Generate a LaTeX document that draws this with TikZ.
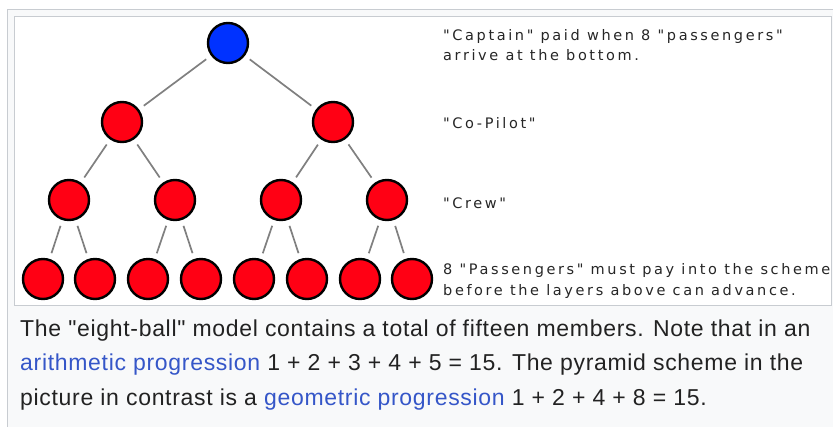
\documentclass[tikz,border=0pt]{standalone}
\usepackage{fontspec}
\setmainfont{Liberation Sans}[Ligatures=TeXOff]
\newfontfamily\smallfont{DejaVu Sans}[LetterSpace=18,Ligatures=TeXOff]
\newfontfamily\capfont{Liberation Sans}[LetterSpace=3,Ligatures=TeXOff]
\definecolor{ballred}{HTML}{FF0014}
\definecolor{ballblue}{HTML}{0032FF}
\definecolor{edgegray}{HTML}{808080}
\definecolor{framegray}{HTML}{C8CCD1}
\definecolor{capbg}{HTML}{F8F9FA}
\definecolor{linkblue}{HTML}{3556C8}
\definecolor{captext}{HTML}{222222}
\begin{document}
\begin{tikzpicture}[x=1pt,y=-1pt,
  ball/.style={circle,draw=black,line width=2.4pt,minimum size=40pt,inner sep=0pt,fill=ballred},
  edgeln/.style={draw=edgegray,line width=1.7pt,shorten >=6pt,shorten <=6pt},
  lbl/.style={anchor=base west,inner sep=0pt,font=\smallfont\fontsize{14.5}{20}\selectfont,text=black!85},
  captxt/.style={anchor=base west,inner sep=0pt,font=\capfont\fontsize{23}{28}\selectfont,text=captext}]
\useasboundingbox (0,0) rectangle (833,426);
\fill[white] (0,0) rectangle (833,426);
\filldraw[fill=capbg,draw=framegray,line width=1pt] (7,9) rectangle (840,440);
\filldraw[fill=white,draw=framegray,line width=1pt] (14,16) rectangle (831,305);
% balls
\node[ball,fill=ballblue] (root) at (228,43) {};
\node[ball] (a1) at (122,122) {};
\node[ball] (a2) at (333,122) {};
\node[ball] (b1) at (69,200) {};
\node[ball] (b2) at (175,200) {};
\node[ball] (b3) at (281,200) {};
\node[ball] (b4) at (387,200) {};
\node[ball] (c1) at (43,279) {};
\node[ball] (c2) at (95,279) {};
\node[ball] (c3) at (148,279) {};
\node[ball] (c4) at (201,279) {};
\node[ball] (c5) at (254,279) {};
\node[ball] (c6) at (307,279) {};
\node[ball] (c7) at (360,279) {};
\node[ball] (c8) at (412,279) {};
% edges
\draw[edgeln] (root) -- (a1);
\draw[edgeln] (root) -- (a2);
\draw[edgeln] (a1) -- (b1);
\draw[edgeln] (a1) -- (b2);
\draw[edgeln] (a2) -- (b3);
\draw[edgeln] (a2) -- (b4);
\draw[edgeln] (b1) -- (c1);
\draw[edgeln] (b1) -- (c2);
\draw[edgeln] (b2) -- (c3);
\draw[edgeln] (b2) -- (c4);
\draw[edgeln] (b3) -- (c5);
\draw[edgeln] (b3) -- (c6);
\draw[edgeln] (b4) -- (c7);
\draw[edgeln] (b4) -- (c8);
% labels
\node[lbl] (t1a) at (443,40) {"Captain" paid when 8 "passengers"};
\node[lbl] (t1b) at (443,60) {arrive at the bottom.};
\node[lbl] (t2) at (443,128) {"Co-Pilot"};
\node[lbl] (t3) at (443,208) {"Crew"};
\begin{scope}
\clip (14,16) rectangle (831,305);
\node[lbl] (t4a) at (443,274) {8 "Passengers" must pay into the scheme};
\node[lbl] (t4b) at (443,295.5) {before the layers above can advance.};
\end{scope}
% caption
\node[captxt] (l1) at (20,336) {The "eight-ball" model contains a total of fifteen members. Note that in an};
\node[captxt] (l2) at (20,370.5) {\textcolor{linkblue}{arithmetic progression} 1 + 2 + 3 + 4 + 5 = 15. The pyramid scheme in the};
\node[captxt] (l3) at (20,405) {picture in contrast is a \textcolor{linkblue}{geometric progression} 1 + 2 + 4 + 8 = 15.};
\end{tikzpicture}
\end{document}
